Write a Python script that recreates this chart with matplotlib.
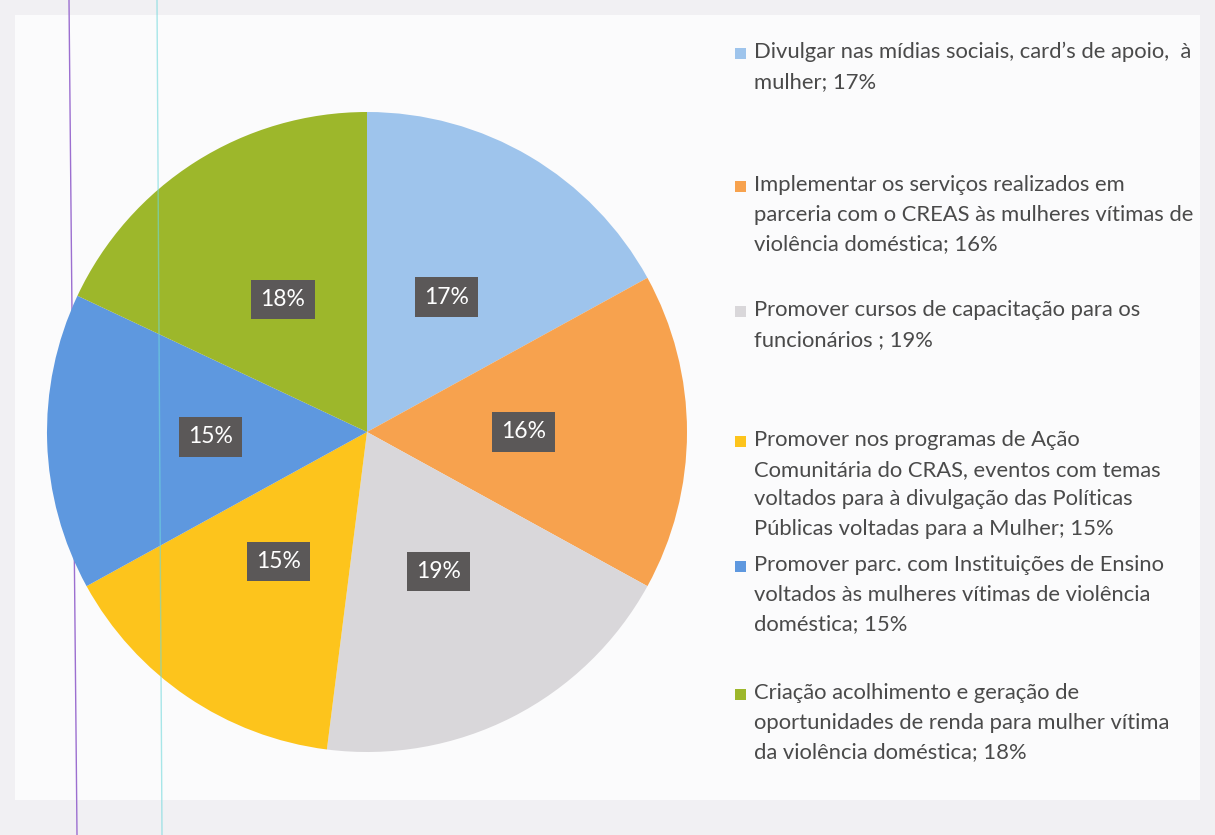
import matplotlib
matplotlib.use("Agg")
import matplotlib.pyplot as plt
from matplotlib.patches import Rectangle
from matplotlib.lines import Line2D

# --- data ---
shares = [17, 16, 19, 15, 15, 18]
pct_labels = ["17%", "16%", "19%", "15%", "15%", "18%"]
legend_texts = [
    "Divulgar nas mídias sociais, card’s de apoio,  à\nmulher; 17%",
    "Implementar os serviços realizados em\nparceria com o CREAS às mulheres vítimas de\nviolência doméstica; 16%",
    "Promover cursos de capacitação para os\nfuncionários ; 19%",
    "Promover nos programas de Ação\nComunitária do CRAS, eventos com temas\nvoltados para à divulgação das Políticas\nPúblicas voltadas para a Mulher; 15%",
    "Promover parc. com Instituições de Ensino\nvoltados às mulheres vítimas de violência\ndoméstica; 15%",
    "Criação acolhimento e geração de\noportunidades de renda para mulher vítima\nda violência doméstica; 18%",
]
colors = ["#9EC4EC", "#F7A24E", "#D9D7DA", "#FDC41C", "#5E98DF", "#9DB72B"]

W, H = 1215, 835
fig = plt.figure(figsize=(W / 100, H / 100), dpi=100)
fig.patch.set_facecolor("#F1F0F3")

# white sheet of the scan
fig.patches.append(Rectangle((15 / W, 1 - 800 / H), 1185 / W, 785 / H,
                             transform=fig.transFigure, facecolor="#FBFBFC",
                             edgecolor="none", zorder=-5))

# scan artefact lines (purple one sits under the pie)
fig.add_artist(Line2D([69 / W, 77 / W], [1, 0], color="#9C6FD0", lw=1.0, zorder=1))

ax = fig.add_axes([47 / W, 1 - 752 / H, 640 / W, 640 / H])
ax.set_zorder(3)
ax.patch.set_visible(False)
wedges, texts = ax.pie(shares, colors=colors, startangle=90, counterclock=False,
                       labels=pct_labels, labeldistance=0.49,
                       wedgeprops=dict(linewidth=0))
for t in texts:
    t.set_color("white")
    t.set_fontsize(16.5)
    t.set_fontfamily("Lato")
    t.set_ha("center")
    t.set_va("center")
    t.set_bbox(dict(boxstyle="square,pad=0.4", facecolor="#5B5858", edgecolor="none"))
ax.set_aspect("equal")
ax.set_xlim(-1, 1)
ax.set_ylim(-1, 1)

fig.add_artist(Line2D([157 / W, 162 / W], [1, 0], color="#6FD8DC", lw=1.0,
                      alpha=0.6, zorder=5))

# legend, placed entry by entry
entry_tops = [42, 175, 300, 430, 555, 683]
for txt, col, ytop in zip(legend_texts, colors, entry_tops):
    fig.patches.append(Rectangle((735 / W, 1 - (ytop + 17) / H), 11 / W, 11 / H,
                                 transform=fig.transFigure, facecolor=col,
                                 edgecolor="none"))
    fig.text(754 / W, 1 - ytop / H, txt, ha="left", va="top", fontsize=15.8,
             family="Lato", color="#4A4A4A", linespacing=1.6)

fig.savefig("out.png", dpi=100, facecolor=fig.get_facecolor())
